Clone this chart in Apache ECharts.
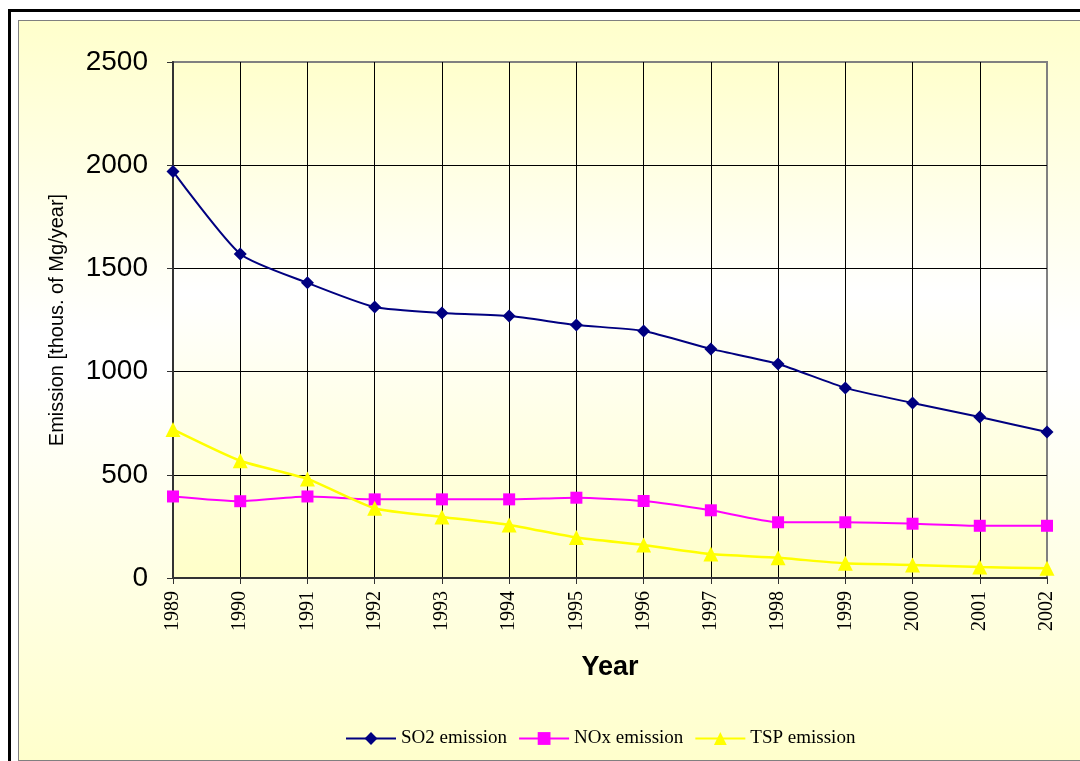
<!DOCTYPE html>
<html>
<head>
<meta charset="utf-8">
<script src="https://cdn.jsdelivr.net/npm/echarts@6/dist/echarts.min.js"></script>
<style>
  html, body { margin: 0; padding: 0; background: #fff; }
  #outer {
    position: absolute; left: 8px; top: 9px; width: 1100px; height: 770px;
    border-left: 3px solid #000; border-top: 3px solid #000;
  }
  #panel {
    position: absolute; left: 18px; top: 20px; width: 1100px; height: 739px;
    border: 1px solid #808080; border-right: none;
    background: linear-gradient(#FFFFCC 0%, #FFFFFF 42%, #FFFFFF 48%, #FFFFCC 100%);
  }
  #chart { position: absolute; left: 0; top: 0; width: 1080px; height: 761px; }
</style>
</head>
<body>
<div id="outer"></div>
<div id="panel"></div>
<div id="chart"></div>
<script>
// emission data, thous. of Mg/year
const years = ['1989', '1990', '1991', '1992', '1993', '1994', '1995',
               '1996', '1997', '1998', '1999', '2000', '2001', '2002'];
const so2 = [1970, 1570, 1430, 1313, 1284, 1269, 1226, 1197, 1110, 1037, 921, 848, 780, 707];
const nox = [395, 372, 395, 381, 381, 381, 389, 373, 328, 270, 270, 263, 253, 253];
const tsp = [720, 568, 480, 338, 296, 257, 196, 160, 116, 98, 71, 63, 53, 47];

const chart = echarts.init(document.getElementById('chart'));

const plotBg = new echarts.graphic.LinearGradient(0, 0, 0, 1, [
  { offset: 0, color: '#FFFFCC' },
  { offset: 0.45, color: '#FFFFFF' },
  { offset: 1, color: '#FFFFC8' }
]);

const vLineColors = years.map((y, i) => i === years.length - 1 ? '#808080' : '#000');

function lineSeries(name, color, symbol, size, width, data) {
  return {
    name: name,
    type: 'line',
    smooth: 0.2,
    symbol: symbol,
    symbolSize: size,
    color: color,
    lineStyle: { width: width, color: color },
    itemStyle: { color: color },
    data: data
  };
}

chart.setOption({
  backgroundColor: 'transparent',
  animation: false,
  grid: {
    left: 173,
    right: 33,
    top: 62,
    bottom: 183,
    show: true,
    backgroundColor: plotBg,
    borderColor: '#808080',
    borderWidth: 2
  },
  legend: {
    left: 340,
    top: 724,
    itemWidth: 50,
    itemHeight: 16,
    itemGap: 11,
    textStyle: {
      fontFamily: 'Liberation Serif',
      fontSize: 19,
      color: '#000'
    },
    data: ['SO2 emission', 'NOx emission', 'TSP emission']
  },
  xAxis: {
    type: 'category',
    boundaryGap: false,
    data: years,
    name: 'Year',
    nameLocation: 'middle',
    nameGap: 76,
    nameTextStyle: {
      fontFamily: 'Liberation Sans',
      fontWeight: 'bold',
      fontSize: 27,
      color: '#000'
    },
    axisLine: { lineStyle: { color: '#333', width: 2 } },
    axisTick: { show: true, length: 6, lineStyle: { color: '#333', width: 1 } },
    axisLabel: {
      rotate: 90,
      margin: 13,
      fontFamily: 'Liberation Serif',
      fontSize: 20,
      color: '#000'
    },
    splitLine: { show: true, lineStyle: { color: vLineColors, width: 1 } }
  },
  yAxis: {
    type: 'value',
    min: 0,
    max: 2500,
    interval: 500,
    name: 'Emission [thous. of Mg/year]',
    nameLocation: 'middle',
    nameGap: 106,
    nameTextStyle: {
      fontFamily: 'Liberation Sans',
      fontSize: 20,
      color: '#000'
    },
    axisLine: { show: true, lineStyle: { color: '#333', width: 2 } },
    axisTick: { show: true, length: 6, lineStyle: { color: '#333', width: 1 } },
    axisLabel: {
      margin: 25,
      fontFamily: 'Liberation Sans',
      fontSize: 28,
      color: '#000',
      formatter: v => String(v)
    },
    splitLine: {
      show: true,
      lineStyle: { color: ['#000', '#000', '#000', '#000', '#000', '#808080'], width: 1 }
    }
  },
  series: [
    lineSeries('SO2 emission', '#000080', 'diamond', 13, 2, so2),
    lineSeries('NOx emission', '#FF00FF', 'rect', 12, 2, nox),
    lineSeries('TSP emission', '#FFFF00', 'triangle', 15, 2.5, tsp)
  ]
});
</script>
</body>
</html>
